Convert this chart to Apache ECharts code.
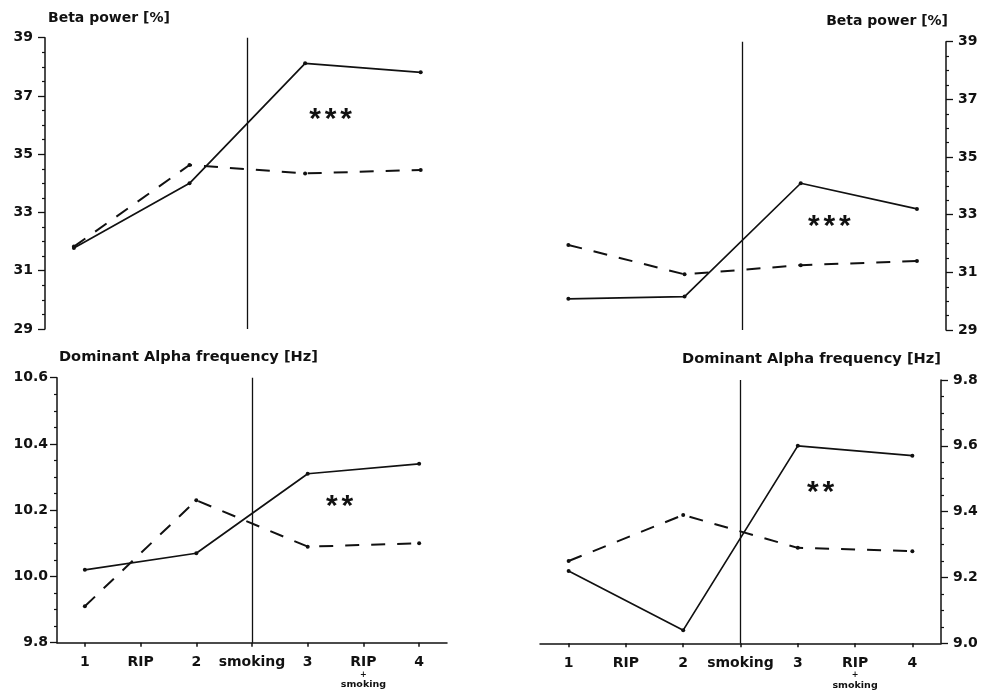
<!DOCTYPE html>
<html>
<head>
<meta charset="utf-8">
<script src="https://cdn.jsdelivr.net/npm/echarts@6/dist/echarts.min.js"></script>
<style>
  html, body { margin: 0; padding: 0; background: #fff; }
  #chart { width: 992px; height: 692px; }
</style>
</head>
<body>
<div id="chart"></div>
<script>
// ---- data ----
const categories = ['1', 'RIP', '2', 'smoking', '3', 'RIP', '4'];
const pointIndex = [0, 2, 4, 6];   // measurements 1..4 sit at these categories

const betaLeftSolid   = [31.78, 34.00, 38.12, 37.81];
const betaLeftDashed  = [31.83, 34.63, 34.34, 34.46];
const betaRightSolid  = [30.08, 30.16, 34.09, 33.20];
const betaRightDashed = [31.95, 30.93, 31.25, 31.39];

const alphaLeftSolid   = [10.02, 10.07, 10.31, 10.34];
const alphaLeftDashed  = [9.91, 10.23, 10.09, 10.10];
const alphaRightSolid  = [9.22, 9.04, 9.60, 9.57];
const alphaRightDashed = [9.25, 9.39, 9.29, 9.28];

const betaTicks  = [29, 31, 33, 35, 37, 39];
const alphaLeftTicks  = [9.8, 10.0, 10.2, 10.4, 10.6];
const alphaRightTicks = [9.0, 9.2, 9.4, 9.6, 9.8];

const titles = ['Beta power [%]', 'Beta power [%]', 'Dominant Alpha frequency [Hz]', 'Dominant Alpha frequency [Hz]'];
const starCounts = [3, 3, 2, 2];
const starValues = [36.31, 32.71, 10.222, 9.471];
const starOffsets = [25.5, 28.7, 31.8, 22.7];

// ---- helpers ----
function spread(vals) {
  const arr = categories.map(() => null);
  pointIndex.forEach((ci, k) => { arr[ci] = vals[k]; });
  return arr;
}
const FONT = '"DejaVu Sans", Verdana, sans-serif';
const STARFONT = '"Liberation Sans", Arial, sans-serif';
const INK = '#111';

function xAxisFor(gi, visible) {
  return {
    type: 'category', gridIndex: gi, data: categories, boundaryGap: true,
    show: visible,
    axisLine: { show: true, lineStyle: { color: INK, width: 1.5 } },
    axisTick: { show: true, alignWithLabel: true, length: 4, lineStyle: { color: INK, width: 1.5 } },
    axisLabel: {
      show: true, interval: 0, margin: 12, color: INK,
      fontFamily: FONT, fontWeight: 'bold', fontSize: 14,
      formatter: function (v, idx) {
        if (idx === 5) return '{m|RIP}\n{p|+}\n{s|smoking}';
        return '{m|' + v + '}';
      },
      rich: {
        m: { fontFamily: FONT, fontWeight: 'bold', fontSize: 14, lineHeight: 16, color: INK },
        p: { fontFamily: FONT, fontWeight: 'bold', fontSize: 8, lineHeight: 8, color: INK },
        s: { fontFamily: FONT, fontWeight: 'bold', fontSize: 9.5, lineHeight: 12, color: INK }
      }
    },
    splitLine: { show: false }
  };
}

function yAxisFor(gi, min, max, interval, position, margin, decimals) {
  return {
    type: 'value', gridIndex: gi, min: min, max: max, interval: interval,
    position: position,
    axisLine: { show: true, lineStyle: { color: INK, width: 1.5 } },
    axisTick: { show: true, length: 7, inside: false, lineStyle: { color: INK, width: 1.3 } },
    minorTick: { show: true, splitNumber: 4, length: 3, lineStyle: { color: INK, width: 1.2 } },
    axisLabel: {
      margin: margin, color: INK, fontFamily: FONT, fontWeight: 'bold', fontSize: 14,
      formatter: function (v) { return decimals ? v.toFixed(decimals) : String(Math.round(v)); }
    },
    splitLine: { show: false }
  };
}

function solidSeries(gi, vals, starIdx) {
  const n = starCounts[starIdx];
  return {
    type: 'line', xAxisIndex: gi, yAxisIndex: gi, data: spread(vals), connectNulls: true,
    symbol: 'circle', symbolSize: 4, showSymbol: true,
    itemStyle: { color: INK },
    lineStyle: { color: INK, width: 1.7, type: 'solid' },
    silent: true, animation: false,
    markLine: {
      silent: true, symbol: 'none', animation: false,
      label: { show: false },
      lineStyle: { color: INK, width: 1.3, type: 'solid' },
      data: [{ xAxis: 3 }]
    },
    markPoint: {
      silent: true, animation: false,
      symbol: 'circle', symbolSize: 0,
      label: {
        show: true, position: 'inside', color: INK,
        offset: [starOffsets[starIdx], 4],
        formatter: new Array(n).fill('{a|*}').join(''),
        rich: {
          a: { fontFamily: STARFONT, fontWeight: 'bold', fontSize: 30, width: 15.5, align: 'center', color: INK, lineHeight: 30 }
        }
      },
      data: [{ coord: [4, starValues[starIdx]] }]
    }
  };
}
function dashedSeries(gi, vals) {
  return {
    type: 'line', xAxisIndex: gi, yAxisIndex: gi, data: spread(vals), connectNulls: true,
    symbol: 'circle', symbolSize: 4, showSymbol: true,
    itemStyle: { color: INK },
    lineStyle: { color: INK, width: 2, type: [14, 12] },
    silent: true, animation: false
  };
}

const chart = echarts.init(document.getElementById('chart'), null, { renderer: 'canvas' });
const titleStyle = { fontFamily: FONT, fontWeight: 'bold', fontSize: 14, color: INK };
const titleStyleWide = { fontFamily: FONT, fontWeight: 'bold', fontSize: 14.6, color: INK };

chart.setOption({
  backgroundColor: '#fff',
  animation: false,
  title: [
    { text: titles[0], left: 48, top: 11, textStyle: titleStyle, padding: 0 },
    { text: titles[1], right: 44, top: 14, textStyle: titleStyle, padding: 0 },
    { text: titles[2], left: 59, top: 350, textStyle: titleStyleWide, padding: 0 },
    { text: titles[3], right: 51, top: 352, textStyle: titleStyleWide, padding: 0 }
  ],
  grid: [
    { left: 45, top: 37.7, width: 404.6, height: 291.3 },
    { left: 539.3, top: 41.7, width: 406.7, height: 288.3 },
    { left: 57, top: 377.7, width: 390, height: 265 },
    { left: 540, top: 380, width: 401, height: 263.3 }
  ],
  xAxis: [
    xAxisFor(0, false),
    xAxisFor(1, false),
    xAxisFor(2, true),
    xAxisFor(3, true)
  ],
  yAxis: [
    yAxisFor(0, betaTicks[0], betaTicks[betaTicks.length - 1], 2, 'left', 12, 0),
    yAxisFor(1, betaTicks[0], betaTicks[betaTicks.length - 1], 2, 'right', 12, 0),
    yAxisFor(2, alphaLeftTicks[0], alphaLeftTicks[alphaLeftTicks.length - 1], 0.2, 'left', 9, 1),
    yAxisFor(3, alphaRightTicks[0], alphaRightTicks[alphaRightTicks.length - 1], 0.2, 'right', 12, 1)
  ],
  series: [
    solidSeries(0, betaLeftSolid, 0),  dashedSeries(0, betaLeftDashed),
    solidSeries(1, betaRightSolid, 1), dashedSeries(1, betaRightDashed),
    solidSeries(2, alphaLeftSolid, 2), dashedSeries(2, alphaLeftDashed),
    solidSeries(3, alphaRightSolid, 3), dashedSeries(3, alphaRightDashed)
  ]
});
</script>
</body>
</html>
